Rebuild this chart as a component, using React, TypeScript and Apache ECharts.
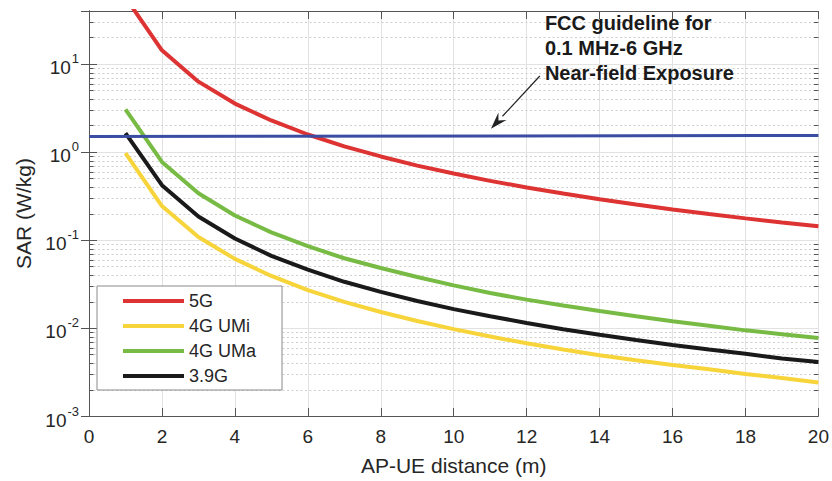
import React, { useEffect, useRef } from "react";
import * as echarts from "echarts";

// AP-UE distance (m)
const distances = [1, 2, 3, 4, 5, 6, 7, 8, 9, 10, 11, 12, 13, 14, 15, 16, 17, 18, 19, 20];

// SAR (W/kg) per technology
const sar5G = [57, 14.3, 6.3, 3.55, 2.28, 1.58, 1.16, 0.89, 0.7, 0.57, 0.47, 0.395, 0.337, 0.29, 0.253, 0.222, 0.197, 0.176, 0.158, 0.143];
const sar4GUMi = [0.97, 0.243, 0.108, 0.061, 0.039, 0.027, 0.0198, 0.0152, 0.012, 0.0097, 0.008, 0.0067, 0.0057, 0.0049, 0.0043, 0.0038, 0.0034, 0.003, 0.0027, 0.0024];
const sar4GUMa = [3.05, 0.77, 0.34, 0.19, 0.122, 0.085, 0.062, 0.048, 0.038, 0.0305, 0.025, 0.021, 0.018, 0.0156, 0.0136, 0.0119, 0.0106, 0.0094, 0.0085, 0.0077];
const sar39G = [1.64, 0.42, 0.185, 0.104, 0.066, 0.046, 0.0335, 0.0257, 0.0203, 0.0164, 0.0136, 0.0114, 0.0097, 0.0084, 0.0073, 0.0064, 0.0057, 0.0051, 0.0045, 0.0041];

// FCC guideline line (start and end of the drawn segment)
const fccX = [0, 20];
const fccY = [1.5, 1.54];

const seriesNames = ["5G", "4G UMi", "4G UMa", "3.9G"];
const seriesColors = ["#DD3333", "#F7D43A", "#77BB44", "#1A1A1A"];
const fccColor = "#3A4DA3";

const annotationLines = ["FCC guideline for", "0.1 MHz-6 GHz", "Near-field Exposure"];
const annotationAt = [12.5, 15.3];
const arrowTail = [12.36, 7.3];
const arrowHead = [11.02, 1.84];

const Y_MIN = 0.001;
const Y_MAX = 40;
const X_MIN = 0;
const X_MAX = 20;

const FONT = "'Liberation Sans', Arial, Helvetica, sans-serif";
const TEXT_COLOR = "#262626";

// minor log gridline values: 2..9 in each decade, within the axis range
function minorLogValues(min: number, max: number): number[] {
  const out: number[] = [];
  for (let e = Math.floor(Math.log10(min)); e <= Math.ceil(Math.log10(max)); e++) {
    for (let m = 2; m <= 9; m++) {
      const v = m * Math.pow(10, e);
      if (v > min && v < max) out.push(Number(v.toPrecision(3)));
    }
  }
  return out;
}

export default function App() {
  const ref = useRef<HTMLDivElement>(null);

  useEffect(() => {
    document.body.style.margin = "0";
    if (!ref.current) return;
    const chart = echarts.init(ref.current, undefined, { renderer: "svg" });

    const minors = minorLogValues(Y_MIN, Y_MAX);

    const lineSeries = [sar5G, sar4GUMi, sar4GUMa, sar39G].map((vals, i) => ({
      name: seriesNames[i],
      type: "line",
      data: distances.map((d, j) => [d, vals[j]]),
      showSymbol: false,
      symbol: "none",
      clip: true,
      z: 5,
      lineStyle: { color: seriesColors[i], width: 4 },
      itemStyle: { color: seriesColors[i] },
    }));

    const option: any = {
      animation: false,
      textStyle: { fontFamily: FONT },
      grid: { left: 89, right: 10, top: 11, bottom: 64, containLabel: false },
      legend: {
        orient: "vertical",
        left: 97,
        top: 286,
        data: seriesNames,
        icon: "rect",
        itemWidth: 61,
        itemHeight: 4,
        itemGap: 5,
        padding: [5, 26, 4, 26],
        backgroundColor: "#ffffff",
        borderColor: "#8a8a8a",
        borderWidth: 1,
        borderRadius: 0,
        textStyle: { fontFamily: FONT, fontSize: 18, color: TEXT_COLOR, lineHeight: 20 },
      },
      xAxis: [
        {
          type: "value",
          min: X_MIN,
          max: X_MAX,
          interval: 2,
          name: "AP-UE distance (m)",
          nameLocation: "middle",
          nameGap: 39,
          nameTextStyle: { fontFamily: FONT, fontSize: 21, color: TEXT_COLOR },
          axisLine: { show: true, lineStyle: { color: "#555555", width: 1 } },
          axisTick: { show: true, inside: true, length: 8, lineStyle: { color: "#555555" } },
          axisLabel: { fontFamily: FONT, fontSize: 19, color: TEXT_COLOR, margin: 11 },
          splitLine: { show: true, lineStyle: { color: "#e2e2e2", width: 1 } },
        },
        {
          type: "value",
          position: "top",
          min: X_MIN,
          max: X_MAX,
          interval: 2,
          axisLine: { show: true, lineStyle: { color: "#555555", width: 1 } },
          axisTick: { show: true, inside: true, length: 8, lineStyle: { color: "#555555" } },
          axisLabel: { show: false },
          splitLine: { show: false },
        },
      ],
      yAxis: [
        {
          type: "log",
          logBase: 10,
          min: Y_MIN,
          max: Y_MAX,
          name: "SAR (W/kg)",
          nameLocation: "middle",
          nameGap: 54,
          nameTextStyle: { fontFamily: FONT, fontSize: 21, color: TEXT_COLOR },
          axisLine: { show: true, lineStyle: { color: "#555555", width: 1 } },
          axisTick: { show: true, inside: true, length: 8, lineStyle: { color: "#555555" } },
          axisLabel: {
            showMaxLabel: false,
            margin: 10,
            formatter: (v: number) => `{b|10}{e|${Math.round(Math.log10(v))}}`,
            rich: {
              b: { fontFamily: FONT, fontSize: 19, color: TEXT_COLOR, padding: [8, 0, 0, 0] },
              e: { fontFamily: FONT, fontSize: 13, color: TEXT_COLOR, verticalAlign: "top", padding: [2, 0, 0, 1] },
            },
          },
          splitLine: { show: true, lineStyle: { color: "#e2e2e2", width: 1 } },
        },
        {
          type: "log",
          logBase: 10,
          position: "right",
          min: Y_MIN,
          max: Y_MAX,
          axisLine: { show: true, lineStyle: { color: "#555555", width: 1 } },
          axisTick: { show: true, inside: true, length: 8, lineStyle: { color: "#555555" } },
          axisLabel: { show: false },
          splitLine: { show: false },
        },
      ],
      series: [
        {
          name: "minor-grid",
          type: "custom",
          silent: true,
          z: 1,
          data: minors.map((v) => [X_MIN, v]),
          renderItem: (params: any, api: any) => {
            const cs = params.coordSys;
            const y = Math.round(api.coord([X_MIN, api.value(1)])[1]) + 0.5;
            const tickStyle = { stroke: "#555555", lineWidth: 1 };
            return {
              type: "group",
              children: [
                {
                  type: "line",
                  shape: { x1: cs.x, y1: y, x2: cs.x + cs.width, y2: y },
                  style: { stroke: "#cfcfcf", lineWidth: 1, lineDash: [2, 2.5] },
                },
                { type: "line", shape: { x1: cs.x, y1: y, x2: cs.x + 4.5, y2: y }, style: tickStyle },
                { type: "line", shape: { x1: cs.x + cs.width - 4.5, y1: y, x2: cs.x + cs.width, y2: y }, style: tickStyle },
              ],
            };
          },
        },
        ...lineSeries,
        {
          name: "FCC guideline",
          type: "line",
          data: fccX.map((x, i) => [x, fccY[i]]),
          showSymbol: false,
          symbol: "none",
          z: 6,
          lineStyle: { color: fccColor, width: 3 },
          itemStyle: { color: fccColor },
        },
      ],
    };

    chart.setOption(option);

    // annotation text and arrow, placed in data coordinates
    const toPx = (p: number[]) => chart.convertToPixel({ gridIndex: 0 }, p) as number[];
    const tp = toPx(annotationAt);
    const tail = toPx(arrowTail);
    const head = toPx(arrowHead);
    const ang = Math.atan2(head[1] - tail[1], head[0] - tail[0]);
    const headLen = 17;
    const halfW = 5.5;
    const bx = head[0] - headLen * Math.cos(ang);
    const by = head[1] - headLen * Math.sin(ang);
    const nx = -Math.sin(ang);
    const ny = Math.cos(ang);

    chart.setOption({
      graphic: [
        {
          type: "text",
          x: tp[0],
          y: tp[1],
          z: 20,
          style: {
            text: annotationLines.join("\n"),
            font: `bold 20px ${FONT}`,
            fill: "#1a1a1a",
            lineHeight: 25,
            align: "left",
            verticalAlign: "middle",
          },
        },
        {
          type: "line",
          z: 20,
          shape: { x1: tail[0], y1: tail[1], x2: bx, y2: by },
          style: { stroke: "#222222", lineWidth: 1.2 },
        },
        {
          type: "polygon",
          z: 20,
          shape: {
            points: [
              [head[0], head[1]],
              [bx + nx * halfW, by + ny * halfW],
              [bx + 0.35 * headLen * Math.cos(ang), by + 0.35 * headLen * Math.sin(ang)],
              [bx - nx * halfW, by - ny * halfW],
            ],
          },
          style: { fill: "#222222" },
        },
      ],
    });

    return () => chart.dispose();
  }, []);

  return <div ref={ref} style={{ width: 832, height: 481 }} />;
}
